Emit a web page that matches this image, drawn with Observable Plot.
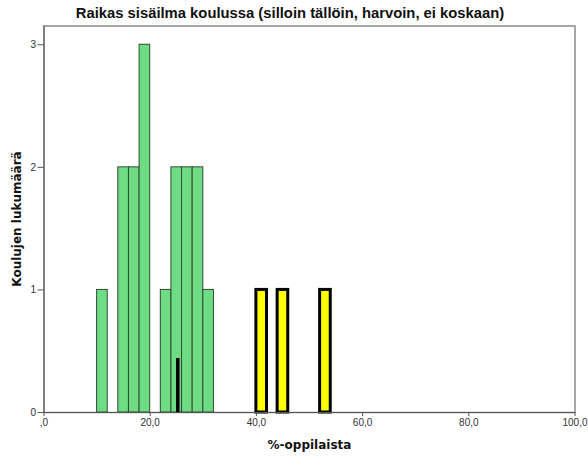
<!DOCTYPE html>
<html>
<head>
<meta charset="utf-8">
<script src="https://cdn.jsdelivr.net/npm/d3@7"></script>
<script src="https://cdn.jsdelivr.net/npm/@observablehq/plot@0.6"></script>
<style>
  html, body { margin: 0; padding: 0; background: #fff; }
  #wrap { position: relative; width: 588px; height: 459px; overflow: hidden; }
  #title { position: absolute; left: 290px; top: 5px; transform: translateX(-50%); white-space: nowrap;
    font: bold 14.8px "Liberation Sans", Arial, sans-serif; color: #111; }
  #xlabel { position: absolute; left: 44px; width: 531px; top: 438px; text-align: center;
    font: bold 12px "DejaVu Sans", sans-serif; color: #111; }
  #ylabel { position: absolute; left: 17px; top: 219px; white-space: nowrap;
    transform: translate(-50%, -50%) rotate(-90deg);
    font: bold 12px "DejaVu Sans", sans-serif; color: #111; }
</style>
</head>
<body>
<div id="wrap">
  <div id="chart"></div>
  <div id="title"></div>
  <div id="xlabel"></div>
  <div id="ylabel"></div>
</div>
<script>
const titleText = "Raikas sisäilma koulussa (silloin tällöin, harvoin, ei koskaan)";
const xLabelText = "%-oppilaista";
const yLabelText = "Koulujen lukumäärä";

// green histogram bins (bin start, count)
const greenBinStart = [10, 14, 16, 18, 22, 24, 26, 28, 30];
const greenCounts   = [1, 2, 2, 3, 1, 2, 2, 2, 1];
// yellow highlighted bins
const yellowBinStart = [40, 44, 52];
const yellowCounts   = [1, 1, 1];
const binWidth = 2;

// black reference marker
const markerX = [25.2];
const markerHeight = [0.44];

const xTicks = [0, 20, 40, 60, 80, 100];
const yTicks = [0, 1, 2, 3];

const green = greenBinStart.map((s, i) => ({x1: s, x2: s + binWidth, y: greenCounts[i]}));
const yellow = yellowBinStart.map((s, i) => ({x1: s, x2: s + binWidth, y: yellowCounts[i]}));
const marker = markerX.map((x, i) => ({x, h: markerHeight[i]}));

const fmt = d => d === 0 ? ",0" : d.toFixed(1).replace(".", ",");

document.getElementById("title").textContent = titleText;
document.getElementById("xlabel").textContent = xLabelText;
document.getElementById("ylabel").textContent = yLabelText;

const chart = Plot.plot({
  width: 588,
  height: 459,
  marginLeft: 43.5,
  marginRight: 13.5,
  marginTop: 25.5,
  marginBottom: 47,
  style: {fontFamily: "'Liberation Sans', Arial, sans-serif", fontSize: "10px", color: "#333", background: "#fff"},
  x: {domain: [0, 100], ticks: xTicks, tickFormat: fmt, label: null},
  y: {domain: [0, 3.153], ticks: yTicks, tickFormat: d => String(d), label: null},
  marks: [
    Plot.frame({stroke: "#8a8a8a", strokeWidth: 1.5}),
    Plot.rectY(green, {x1: "x1", x2: "x2", y: "y", fill: "#6fdc84", stroke: "#2f4a35", strokeWidth: 1, inset: 0}),
    Plot.rectY(yellow, {x1: "x1", x2: "x2", y: "y", fill: "#ffff00", stroke: "#000", strokeWidth: 3, inset: 0}),
    Plot.ruleX(marker, {x: "x", y1: 0, y2: "h", stroke: "#000", strokeWidth: 3.5}),
    Plot.ruleY([0], {stroke: "#555", strokeWidth: 1}),
    Plot.ruleX([0], {stroke: "#555", strokeWidth: 1}),
    Plot.axisX({ticks: xTicks, tickFormat: fmt, tickSize: 4, tickPadding: 2, stroke: "#555", label: null}),
    Plot.axisY({ticks: yTicks, tickFormat: d => String(d), tickSize: 6, tickPadding: 2, stroke: "#555", label: null})
  ]
});
document.getElementById("chart").appendChild(chart);
</script>
</body>
</html>
